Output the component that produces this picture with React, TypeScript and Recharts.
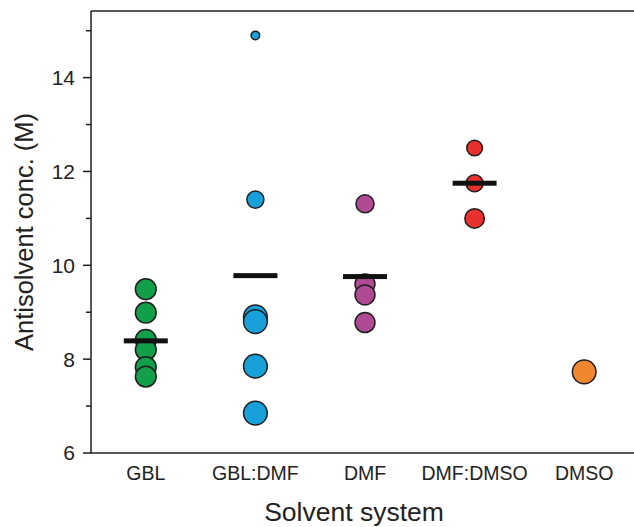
import React from 'react';
import { ScatterChart, Scatter, XAxis, YAxis, ZAxis, ReferenceLine } from 'recharts';

// solvent systems on the x axis
const categories = ['GBL', 'GBL:DMF', 'DMF', 'DMF:DMSO', 'DMSO'];

// antisolvent concentration (M) for each run
const gblValues = [9.49, 8.99, 8.41, 8.2, 7.83, 7.63];
const gblDmfValues = [14.9, 11.4, 8.9, 8.8, 7.85, 6.85];
const dmfValues = [11.31, 9.6, 9.37, 8.78];
const dmfDmsoValues = [12.5, 11.75, 11.0];
const dmsoValues = [7.73];

// relative marker weight of each run (mapped via ZAxis)
const gblWeights = [0.77, 0.77, 0.77, 0.77, 0.77, 0.77];
const gblDmfWeights = [0.13, 0.52, 1, 1, 1, 1];
const dmfWeights = [0.58, 0.71, 0.71, 0.71];
const dmfDmsoWeights = [0.44, 0.52, 0.68];
const dmsoWeights = [1];

// mean per solvent system (DMSO has a single run, no mean bar)
const means = [8.39, 9.78, 9.76, 11.75];

const yTicks = [6, 7, 8, 9, 10, 11, 12, 13, 14, 15];
const yMax = 15.42;

const FONT = '"Liberation Sans", Arial, sans-serif';
const INK = '#1e1e1e';

const toPoints = (index: number, values: number[], weights: number[]) =>
  values.map((v, i) => ({ x: index, y: v, z: weights[i] }));

const groups = [
  { data: toPoints(0, gblValues, gblWeights), color: '#11a049' },
  { data: toPoints(1, gblDmfValues, gblDmfWeights), color: '#17a0da' },
  { data: toPoints(2, dmfValues, dmfWeights), color: '#b04a94' },
  { data: toPoints(3, dmfDmsoValues, dmfDmsoWeights), color: '#e8302e' },
  { data: toPoints(4, dmsoValues, dmsoWeights), color: '#f0862e' },
];

const meanData = means.map((m, i) => ({ x: i, y: m }));

const YTick = (props: any) => {
  const { x, y, payload } = props;
  const axisX = x + 16;
  const major = payload.value % 2 === 0;
  return (
    <g>
      <line x1={axisX - (major ? 8 : 5)} x2={axisX} y1={y} y2={y} stroke={INK} strokeWidth={1.5} />
      {major && (
        <text x={x} y={y} dy="0.355em" textAnchor="end" fontSize={21} fontFamily={FONT} fill="#222">
          {payload.value}
        </text>
      )}
    </g>
  );
};

const MeanBar = (props: any) => {
  const { cx, cy } = props;
  return <rect x={cx - 22} y={cy - 2.5} width={44} height={5} fill="#111" />;
};

const YLabel = (props: any) => {
  const { x, y, height } = props.viewBox;
  const cx = x + 24;
  const cy = y + height / 2;
  return (
    <text x={cx} y={cy} transform={`rotate(-90 ${cx} ${cy})`} textAnchor="middle" dominantBaseline="central"
      fontSize={25.5} fontFamily={FONT} fill="#222">
      Antisolvent conc. (M)
    </text>
  );
};

const XLabel = () => (
  <text x={354} y={521} textAnchor="middle" fontSize={26.5} fontFamily={FONT} fill="#222">
    Solvent system
  </text>
);

export default function App() {
  return (
    <div style={{ position: 'absolute', left: 0, top: 0, width: 634, height: 527, overflow: 'hidden', background: '#fff' }}>
      <ScatterChart width={649} height={527} margin={{ top: 11, right: 10, bottom: 0, left: 0 }}>
        <XAxis
          type="number"
          dataKey="x"
          domain={[-0.5, 4.5]}
          ticks={[0, 1, 2, 3, 4]}
          tickFormatter={(i: number) => categories[i]}
          allowDataOverflow
          height={74}
          tickLine={false}
          tickSize={0}
          tickMargin={13}
          axisLine={{ stroke: INK, strokeWidth: 1.5 }}
          tick={{ fontSize: 19.5, fontFamily: FONT, fill: '#222' }}
          label={<XLabel />}
        />
        <YAxis
          type="number"
          dataKey="y"
          domain={[6, yMax]}
          ticks={yTicks}
          allowDataOverflow
          width={91}
          tickLine={false}
          tickSize={8}
          tickMargin={8}
          axisLine={{ stroke: INK, strokeWidth: 1.5 }}
          tick={<YTick />}
          label={<YLabel />}
        />
        <YAxis
          yAxisId="right"
          orientation="right"
          type="number"
          domain={[6, yMax]}
          ticks={[6, 8, 10, 12, 14]}
          allowDataOverflow
          mirror
          tick={false}
          tickSize={8}
          tickLine={{ stroke: INK, strokeWidth: 1.5 }}
          axisLine={{ stroke: INK, strokeWidth: 1.5 }}
        />
        <ZAxis type="number" dataKey="z" domain={[0, 1]} range={[0, 440]} />
        <ReferenceLine y={yMax} stroke={INK} strokeWidth={1.5} />
        {groups.map((g, i) => (
          <Scatter
            key={categories[i]}
            data={g.data}
            fill={g.color}
            stroke={INK}
            strokeWidth={1.5}
            isAnimationActive={false}
          />
        ))}
        <Scatter data={meanData} shape={<MeanBar />} isAnimationActive={false} />
      </ScatterChart>
    </div>
  );
}
